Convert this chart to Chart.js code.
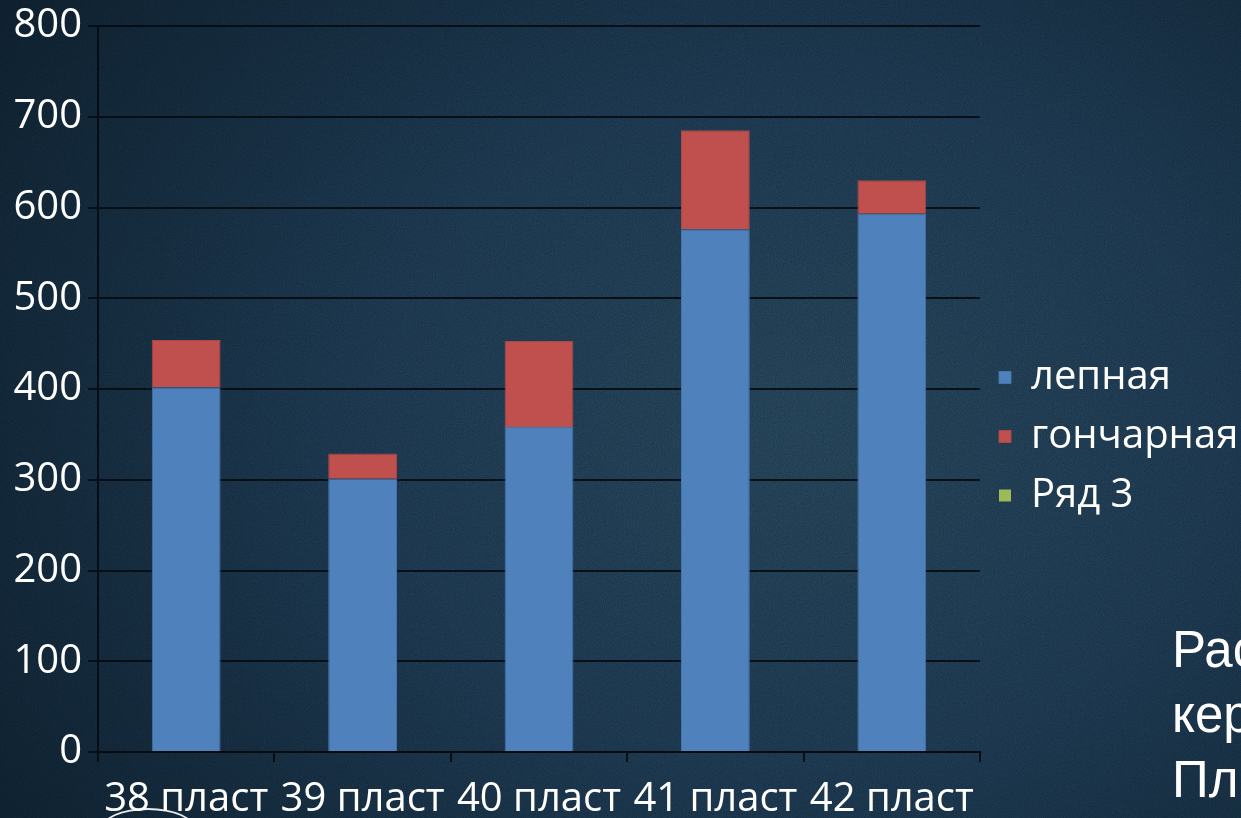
<!DOCTYPE html>
<html lang="ru">
<head>
<meta charset="utf-8">
<script src="https://cdn.jsdelivr.net/npm/chart.js@4.4.1/dist/chart.umd.min.js"></script>
<style>
  html, body { margin: 0; padding: 0; }
  body {
    width: 1241px; height: 818px; overflow: hidden; position: relative;
    background-color: #1d3a51;
    background-image:
      url("data:image/svg+xml;utf8,<svg xmlns='http://www.w3.org/2000/svg' width='300' height='300'><filter id='n'><feTurbulence type='fractalNoise' baseFrequency='0.9' numOctaves='2' stitchTiles='stitch'/><feColorMatrix values='0 0 0 0 0  0 0 0 0 0  0 0 0 0 0  0 0 0 0.35 0'/></filter><rect width='300' height='300' filter='url(%23n)'/></svg>"),
      radial-gradient(ellipse 950px 750px at 800px 430px, #2d5169 0%, #234460 45%, #183247 80%, #12283a 100%);
  }
  #wrap { position: absolute; left: 0; top: 0; width: 1241px; height: 818px; }
  .note {
    position: absolute; left: 1172px; color: #ffffff;
    font-family: "Liberation Sans", Arial, sans-serif; font-size: 51px; line-height: 65px;
    white-space: nowrap;
  }
  .arc {
    position: absolute; left: 100px; top: 808px; width: 92px; height: 40px;
    border: 2px solid rgba(255,255,255,0.9); border-radius: 50%;
  }
</style>
</head>
<body>
<div id="wrap"><canvas id="grafico" width="1241" height="818"></canvas></div>
<div class="note" style="top: 617px;">Рас<br>кер<br>Пл</div>
<div class="arc"></div>
<script>
// Данные диаграммы
const plasty = ['38 пласт', '39 пласт', '40 пласт', '41 пласт', '42 пласт'];
const lepnaya = [402, 301, 358, 576, 593];
const goncharnaya = [52, 28, 95, 109, 37];
const ryad3 = [null, null, null, null, null];
const yTicks = [0, 100, 200, 300, 400, 500, 600, 700, 800];

const ctx = document.getElementById('grafico').getContext('2d');
const gridColor = 'rgba(5, 12, 18, 0.9)';

new Chart(ctx, {
    type: 'bar',
    data: {
        labels: plasty,
        datasets: [
            { label: 'лепная', data: lepnaya, backgroundColor: '#4f81bd', borderColor: '#4674aa', borderWidth: 1 },
            { label: 'гончарная', data: goncharnaya, backgroundColor: '#c0504d', borderColor: '#a94744', borderWidth: 1 },
            { label: 'Ряд 3', data: ryad3, backgroundColor: '#9bbb59', borderWidth: 0 }
        ]
    },
    options: {
        responsive: false,
        animation: false,
        devicePixelRatio: 1,
        layout: { padding: { top: 25, left: 14, right: 0, bottom: 0 } },
        datasets: { bar: { categoryPercentage: 1, barPercentage: 0.39 } },
        plugins: {
            legend: {
                position: 'right',
                maxWidth: 261,
                // пустой заголовок только чтобы сдвинуть легенду чуть ниже
                title: { display: true, text: '', font: { size: 10 }, padding: { top: 0, bottom: 18 } },
                labels: {
                    color: '#ffffff',
                    boxWidth: 12,
                    boxHeight: 12,
                    padding: 19,
                    font: { family: 'Open Sans', size: 40 }
                }
            },
            tooltip: { enabled: false }
        },
        scales: {
            x: {
                stacked: true,
                afterFit: (scale) => { scale.height = 66; },
                grid: { display: true, drawOnChartArea: false, drawTicks: true, tickLength: 10, color: gridColor, lineWidth: 2 },
                border: { display: true, color: gridColor, width: 2 },
                ticks: { color: '#ffffff', padding: 14, maxRotation: 0, font: { family: 'Open Sans', size: 40 } }
            },
            y: {
                stacked: true,
                min: 0,
                max: 800,
                afterBuildTicks: (scale) => { scale.ticks = yTicks.map(v => ({ value: v })); },
                afterFit: (scale) => { scale.width = 84; },
                grid: { color: gridColor, lineWidth: 2, tickLength: 10 },
                border: { display: true, color: gridColor, width: 2 },
                ticks: { color: '#ffffff', padding: 6, font: { family: 'Open Sans', size: 40, lineHeight: 1 } }
            }
        }
    }
});
</script>
</body>
</html>
